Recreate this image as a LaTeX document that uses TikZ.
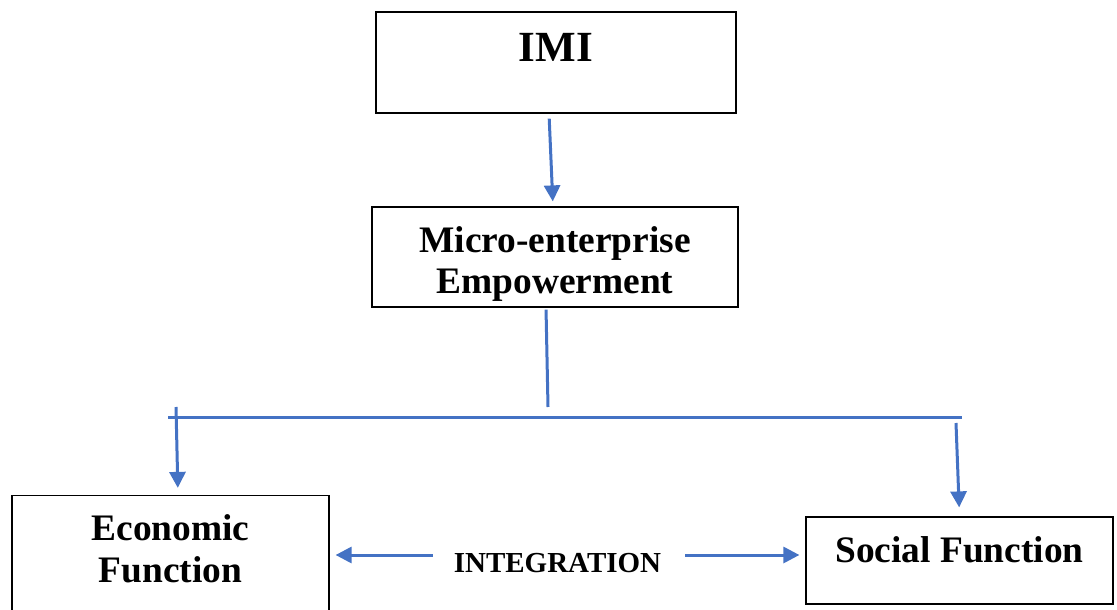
\documentclass[tikz,border=0pt]{standalone}
\usepackage{fontspec}
\setmainfont{Liberation Serif}
\usepackage{xcolor}
\usetikzlibrary{arrows.meta,positioning}
\definecolor{flowblue}{HTML}{4472C4}

\begin{document}
\begin{tikzpicture}[x=1pt,y=-1pt,
    box/.style={draw=black,line width=1.2pt,inner sep=0pt,anchor=base,align=center,
      font=\bfseries\fontsize{37.4}{41.5}\selectfont},
    flow/.style={flowblue,line width=3pt},
    arr/.style={flow,-{Triangle[length=16pt,width=16pt]}}]
    \useasboundingbox (0,0) rectangle (1117,610);
    % Boxes
    \node[box,minimum width=360pt,text height=50pt,text depth=51pt,
      font=\bfseries\fontsize{43}{48}\selectfont] (imi) at (556,62) {IMI};
    \node[box,minimum width=366pt,text height=86.5pt,text depth=13.5pt] (micro) at (555,293.5)
      {Micro-enterprise\\Empowerment};
    \node[box,minimum width=317pt,text height=86.5pt,text depth=43.5pt] (econ) at (170.5,582)
      {Economic\\Function};
    \node[box,minimum width=307pt,text height=45pt,text depth=42pt] (social) at (959.5,562)
      {Social Function};
    \node[inner sep=0pt,font=\bfseries\fontsize{29}{32}\selectfont] (integ) at (557.5,563)
      {INTEGRATION};
    % IMI to micro-enterprise
    \draw[arr,shorten <=5pt,shorten >=5pt] ([xshift=-7pt]imi.south) -- ([xshift=-2pt]micro.north);
    % Branching bar
    \coordinate (stem) at (548,407);
    \coordinate (barL) at (168,417);
    \coordinate (barR) at (962,417);
    \draw[flow,shorten <=2pt] ([xshift=-9pt]micro.south) -- (stem);
    \draw[flow] (barL) -- (barR);
    % Drops to the two functions
    \coordinate (dropL) at (176,407);
    \coordinate (dropR) at (956,423);
    \draw[arr,shorten >=7pt] (dropL) -- ([xshift=7.5pt]econ.north);
    \draw[arr,shorten >=9pt] (dropR) -- (social.north);
    % Integration arrows
    \coordinate (intL) at ([xshift=-21pt,yshift=8pt]integ.west);
    \coordinate (intR) at ([xshift=24pt,yshift=8pt]integ.east);
    \draw[arr,shorten >=6pt] (intL) -- (intL -| econ.east);
    \draw[arr,shorten >=6pt] (intR) -- (intR -| social.west);
\end{tikzpicture}
\end{document}
